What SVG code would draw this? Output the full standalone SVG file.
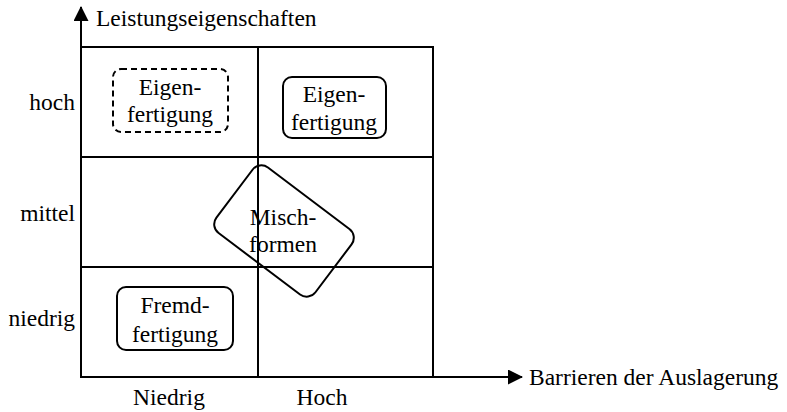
<svg xmlns="http://www.w3.org/2000/svg" width="787" height="412" viewBox="0 0 787 412">
<style>
.ln{fill:none;stroke:#000;stroke-width:2}
.t{font-family:'Liberation Serif',serif;font-size:23.5px;fill:#000}
.m{text-anchor:middle}
.e{text-anchor:end}
</style>
<defs>
<marker id="ah" markerWidth="15" markerHeight="15" refX="14" refY="7.5" orient="auto" markerUnits="userSpaceOnUse" viewBox="0 0 15 15">
<path d="M0,0 L15,7.5 L0,15 z" fill="#000"/>
</marker>
</defs>
<g id="grid" class="ln">
<rect x="81" y="47" width="352" height="330"/>
<line x1="258" y1="47" x2="258" y2="377"/>
<line x1="81" y1="157" x2="433" y2="157"/>
<line x1="81" y1="267" x2="433" y2="267"/>
</g>
<g id="connectors" class="ln">
<line x1="81" y1="377" x2="81" y2="7" marker-end="url(#ah)"/>
<line x1="433" y1="377" x2="522" y2="377" marker-end="url(#ah)"/>
</g>
<g id="labels">
<text class="t" x="96" y="26">Leistungseigenschaften</text>
<text class="t" x="529" y="385">Barrieren der Auslagerung</text>
<text class="t e" x="75" y="110">hoch</text>
<text class="t e" x="75" y="221">mittel</text>
<text class="t e" x="75" y="326">niedrig</text>
<text class="t m" x="169" y="405">Niedrig</text>
<text class="t m" x="322" y="405">Hoch</text>
</g>
<g id="eigen-dashed">
<rect class="ln" x="113" y="69" width="115" height="63" rx="8" stroke-dasharray="6,4"/>
<text class="t m" x="170" y="95">Eigen-</text>
<text class="t m" x="170" y="122">fertigung</text>
</g>
<g id="eigen">
<rect class="ln" x="283" y="77" width="103" height="61" rx="9"/>
<text class="t m" x="334" y="102">Eigen-</text>
<text class="t m" x="334" y="130">fertigung</text>
</g>
<g id="fremd">
<rect class="ln" x="117" y="287" width="116" height="63" rx="9"/>
<text class="t m" x="175" y="313">Fremd-</text>
<text class="t m" x="175" y="342">fertigung</text>
</g>
<g id="misch">
<rect class="ln" x="-62" y="-41" width="124" height="82" rx="11" transform="translate(284,231) rotate(37)"/>
<text class="t m" x="283" y="225">Misch-</text>
<text class="t m" x="283" y="252">formen</text>
</g>
</svg>
